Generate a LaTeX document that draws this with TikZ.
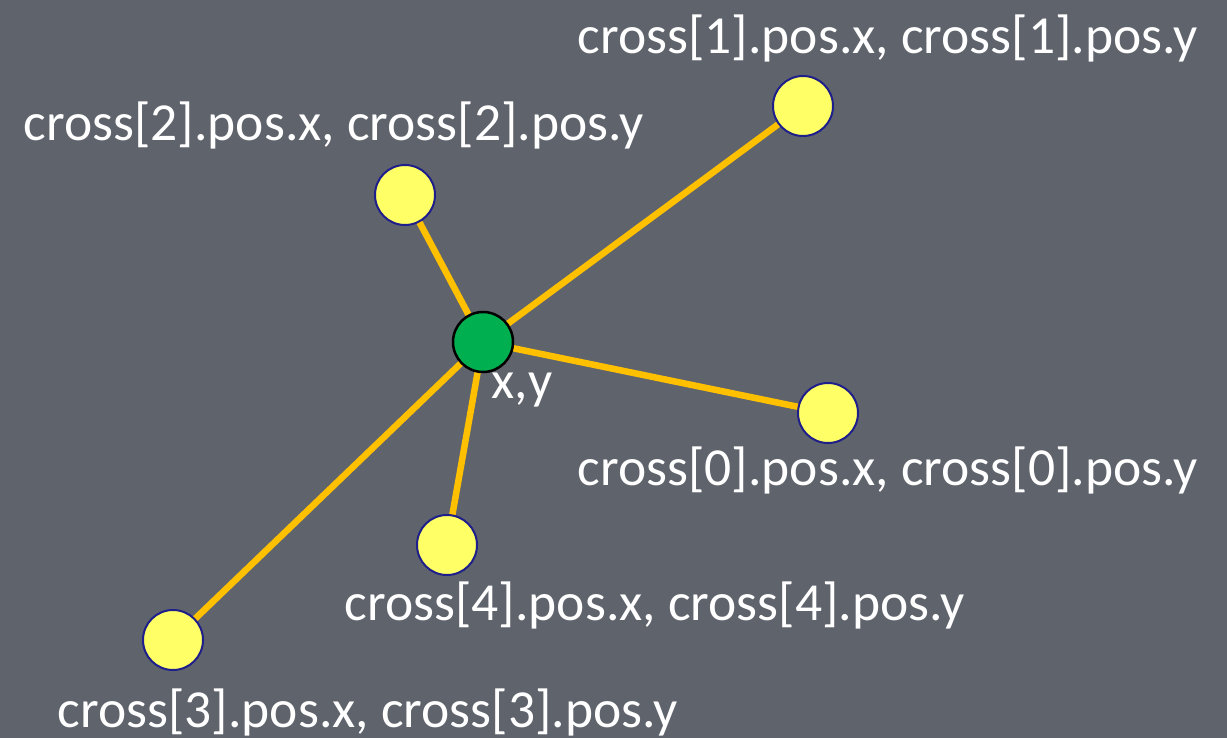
\documentclass[tikz,border=0pt]{standalone}
\usepackage{fontspec}
\setmainfont{Carlito}
\usetikzlibrary{backgrounds}
\definecolor{bg}{HTML}{5F636C}
\definecolor{grn}{HTML}{00B050}
\definecolor{ylw}{HTML}{FFFF66}
\definecolor{rim}{HTML}{1F1F8C}
\definecolor{org}{HTML}{FFC000}
\tikzset{
  dot/.style={circle,fill=ylw,draw=rim,line width=2pt,minimum size=60pt,inner sep=0pt},
  hub/.style={circle,fill=grn,draw=black,line width=2.5pt,minimum size=60pt,inner sep=0pt},
  lbl/.style={text=white,font=\fontsize{53.5}{56}\selectfont,inner sep=0pt},
  spoke/.style={draw=org,line width=6.5pt}
}
\begin{document}
\begin{tikzpicture}[x=1pt,y=-1pt]
\useasboundingbox (0,0) rectangle (1227,738);
\node[hub] (g) at (483,342) {};
\node[dot] (c1) at (803,106) {};
\node[dot] (c2) at (405,195) {};
\node[dot] (c0) at (828,413) {};
\node[dot] (c4) at (447,545) {};
\node[dot] (c3) at (173,640) {};
\begin{scope}[on background layer]
\fill[bg] (0,0) rectangle (1227,738);
\draw[spoke] (g.center) -- (c1.center);
\draw[spoke] (g.center) -- (c2.center);
\draw[spoke] (g.center) -- (c0.center);
\draw[spoke] (g.center) -- (c4.center);
\draw[spoke] (g.center) -- (c3.center);
\end{scope}
\node[lbl] (l1) at (888,38) {cross[1].pos.x, cross[1].pos.y};
\node[lbl] (l2) at (334,125) {cross[2].pos.x, cross[2].pos.y};
\node[lbl] (lg) at (522,390) {x,y};
\node[lbl] (l0) at (888,470) {cross[0].pos.x, cross[0].pos.y};
\node[lbl] (l4) at (655,605) {cross[4].pos.x, cross[4].pos.y};
\node[lbl] (l3) at (368,712) {cross[3].pos.x, cross[3].pos.y};
\end{tikzpicture}
\end{document}
